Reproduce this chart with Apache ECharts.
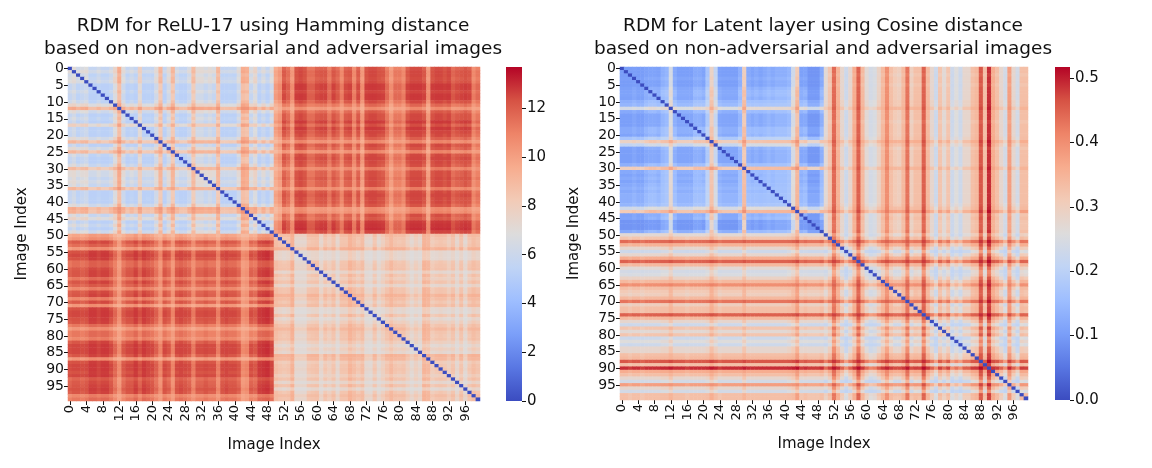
<!DOCTYPE html>
<html>
<head>
<meta charset="utf-8">
<title>RDM heatmaps</title>
<script src="https://cdn.jsdelivr.net/npm/echarts@6/dist/echarts.min.js"></script>
<style>
  html, body { margin: 0; padding: 0; background: #fff; }
  #main { width: 1152px; height: 468px; }
</style>
</head>
<body>
<div id="main"></div>
<script>
// image indices 0..99 (first 50 non-adversarial, last 50 adversarial)
var imageIndex = [];
for (var k = 0; k < 100; k++) imageIndex.push(String(k));

// ReLU-17 / Hamming: typical level of each image's row inside its own half
var hamWithin = [
  6.5, 7.0, 6.0, 6.5, 6.8, 5.5, 5.5, 6.0, 5.5, 5.5,
  6.0, 7.5, 9.5, 6.8, 5.5, 6.0, 5.5, 7.8, 5.5, 5.6,
  5.5, 7.0, 9.0, 5.5, 7.0, 9.0, 6.0, 5.5, 5.5, 6.5,
  8.8, 7.0, 7.0, 6.5, 7.0, 6.5, 9.0, 5.5, 5.5, 5.6,
  5.5, 6.8, 9.5, 9.3, 6.5, 7.5, 5.5, 6.5, 5.5, 6.8,
  8.8, 8.5, 8.3, 8.5, 9.3, 7.3, 7.3, 7.3, 8.3, 8.5,
  8.6, 7.3, 8.3, 7.8, 8.5, 7.3, 8.5, 8.5, 9.2, 8.8,
  8.3, 8.8, 7.3, 7.2, 8.3, 7.2, 7.8, 8.5, 9.0, 8.5,
  8.3, 8.5, 7.8, 7.2, 7.8, 7.3, 9.2, 9.0, 8.0, 8.3,
  8.5, 8.3, 7.8, 8.5, 7.3, 8.5, 7.2, 8.3, 8.8, 8.5
];
// ReLU-17 / Hamming: typical level of each image's row in the other half
var hamAcross = [
  11.9, 12.2, 12.2, 12.0, 12.2, 12.6, 12.6, 12.4, 12.6, 12.6,
  12.2, 11.2, 10.2, 11.6, 12.2, 12.2, 12.6, 11.9, 12.6, 12.4,
  12.2, 11.4, 10.4, 12.2, 11.7, 10.4, 12.2, 12.4, 12.2, 11.9,
  10.7, 11.9, 11.9, 12.2, 11.9, 11.9, 10.6, 12.2, 12.4, 12.2,
  12.2, 11.7, 10.2, 10.4, 11.9, 11.6, 12.6, 12.7, 12.8, 12.4,
  9.4, 9.9, 11.7, 11.2, 9.9, 12.2, 12.4, 12.2, 11.2, 11.2,
  11.7, 11.9, 11.9, 10.9, 11.9, 11.4, 10.4, 11.7, 11.9, 10.4,
  11.7, 9.9, 12.2, 12.4, 12.4, 12.2, 12.0, 10.9, 9.9, 10.9,
  10.9, 10.4, 11.9, 12.4, 12.4, 12.4, 11.9, 9.9, 12.2, 12.4,
  12.4, 12.2, 12.4, 11.4, 11.7, 11.9, 12.2, 11.9, 10.4, 10.9
];
var hamMid = { A: 6.3, B: 8.3, AB: 11.8 };
var hamMax = 13.7;
var hamTicks = [0, 2, 4, 6, 8, 10, 12];

// Latent layer / Cosine: typical level of each image's row inside its own half
var cosWithin = [
  0.11, 0.11, 0.11, 0.12, 0.11, 0.11, 0.13, 0.14, 0.14, 0.13,
  0.16, 0.17, 0.27, 0.15, 0.12, 0.12, 0.12, 0.12, 0.15, 0.15,
  0.14, 0.20, 0.32, 0.24, 0.13, 0.12, 0.12, 0.12, 0.12, 0.16,
  0.33, 0.15, 0.14, 0.15, 0.14, 0.15, 0.16, 0.15, 0.16, 0.16,
  0.16, 0.17, 0.26, 0.34, 0.13, 0.14, 0.10, 0.10, 0.10, 0.15,
  0.27, 0.32, 0.42, 0.35, 0.28, 0.23, 0.28, 0.35, 0.44, 0.34,
  0.27, 0.24, 0.25, 0.29, 0.34, 0.39, 0.33, 0.30, 0.30, 0.34,
  0.42, 0.30, 0.33, 0.32, 0.44, 0.34, 0.28, 0.23, 0.32, 0.27,
  0.32, 0.23, 0.26, 0.23, 0.28, 0.28, 0.33, 0.34, 0.45, 0.32,
  0.47, 0.36, 0.33, 0.28, 0.23, 0.38, 0.28, 0.23, 0.33, 0.32
];
// Latent layer / Cosine: typical level of each image's row in the other half
var cosAcross = [
  0.30, 0.30, 0.29, 0.30, 0.30, 0.29, 0.30, 0.30, 0.30, 0.30,
  0.31, 0.31, 0.34, 0.30, 0.30, 0.30, 0.29, 0.30, 0.30, 0.30,
  0.30, 0.31, 0.35, 0.32, 0.29, 0.30, 0.30, 0.30, 0.30, 0.30,
  0.34, 0.30, 0.30, 0.30, 0.30, 0.30, 0.30, 0.30, 0.30, 0.30,
  0.30, 0.31, 0.33, 0.37, 0.29, 0.30, 0.29, 0.29, 0.29, 0.30,
  0.27, 0.32, 0.44, 0.35, 0.28, 0.23, 0.28, 0.36, 0.45, 0.34,
  0.27, 0.24, 0.25, 0.29, 0.34, 0.40, 0.33, 0.31, 0.30, 0.34,
  0.43, 0.30, 0.33, 0.33, 0.45, 0.34, 0.28, 0.23, 0.32, 0.27,
  0.32, 0.23, 0.26, 0.23, 0.28, 0.28, 0.33, 0.34, 0.46, 0.33,
  0.49, 0.36, 0.33, 0.28, 0.24, 0.38, 0.28, 0.24, 0.33, 0.33
];
var cosMid = { A: 0.14, B: 0.30, AB: 0.30 };
var cosMax = 0.517;
var cosTicks = [0, 0.1, 0.2, 0.3, 0.4, 0.5];

var coolwarm = ['#3b4cc0', '#5977e3', '#7b9ff9', '#9ebeff', '#c0d4f5', '#dddcdc',
                '#f2cbb7', '#f7ac8e', '#ee8468', '#d65244', '#b40426'];

// two row effects -> one cell; same-sign effects don't fully stack
function combine(a, b) {
  if (a * b > 0) {
    var big = Math.abs(a) >= Math.abs(b) ? a : b;
    var small = big === a ? b : a;
    return big + 0.3 * small;
  }
  return a + b;
}

function buildRdm(within, across, mid, max) {
  var out = [];
  for (var i = 0; i < 100; i++) {
    for (var j = 0; j < 100; j++) {
      var gi = i < 50 ? 'A' : 'B', gj = j < 50 ? 'A' : 'B';
      var v;
      if (i === j) v = 0;
      else if (gi === gj) v = mid[gi] + combine(within[i] - mid[gi], within[j] - mid[gj]);
      else v = mid.AB + combine(across[i] - mid.AB, across[j] - mid.AB);
      v = Math.max(0, Math.min(max, v));
      out.push([j, i, v]);
    }
  }
  return out;
}

var hamData = buildRdm(hamWithin, hamAcross, hamMid, hamMax);
var cosData = buildRdm(cosWithin, cosAcross, cosMid, cosMax);

var font = 'DejaVu Sans';
var txt = '#111';

function heatX(gridIdx) {
  return {
    type: 'category', gridIndex: gridIdx, data: imageIndex,
    name: 'Image Index', nameLocation: 'middle', nameGap: 37,
    nameTextStyle: { fontFamily: font, fontSize: 15, color: txt },
    axisLine: { show: false }, splitArea: { show: false },
    axisTick: { show: true, interval: 3, alignWithLabel: true, length: 4, lineStyle: { color: txt } },
    axisLabel: { interval: 3, rotate: 90, fontFamily: font, fontSize: 13, color: txt, margin: 4 }
  };
}
function heatY(gridIdx) {
  return {
    type: 'category', gridIndex: gridIdx, data: imageIndex, inverse: true,
    name: 'Image Index', nameLocation: 'middle', nameGap: 38, nameRotate: 90,
    nameTextStyle: { fontFamily: font, fontSize: 15, color: txt },
    axisLine: { show: false }, splitArea: { show: false },
    axisTick: { show: true, interval: 4, alignWithLabel: true, length: 4, lineStyle: { color: txt } },
    axisLabel: { interval: 4, fontFamily: font, fontSize: 14, color: txt, margin: 4 }
  };
}
function barX(gridIdx) {
  return { type: 'category', gridIndex: gridIdx, data: ['c'], show: false };
}
function barY(gridIdx, max, ticks, digits) {
  return {
    type: 'value', gridIndex: gridIdx, min: 0, max: max, position: 'right',
    splitLine: { show: false }, axisLine: { show: false },
    axisTick: { show: true, length: 4, customValues: ticks, lineStyle: { color: txt } },
    axisLabel: { customValues: ticks, fontFamily: font, fontSize: 15, color: txt, margin: 5,
      formatter: function (v) { return v.toFixed(digits); } }
  };
}
function gradient() {
  var stops = coolwarm.map(function (c, i) { return { offset: i / 10, color: c }; });
  return new echarts.graphic.LinearGradient(0, 1, 0, 0, stops);
}

var chart = echarts.init(document.getElementById('main'), null, { renderer: 'canvas' });
chart.setOption({
  animation: false,
  backgroundColor: '#fff',
  grid: [
    { left: 68, top: 67, width: 412, height: 334 },
    { left: 506, top: 67, width: 16, height: 334 },
    { left: 620, top: 67, width: 408, height: 333 },
    { left: 1055, top: 67, width: 15, height: 333 }
  ],
  xAxis: [heatX(0), barX(1), heatX(2), barX(3)],
  yAxis: [heatY(0), barY(1, hamMax, hamTicks, 0), heatY(2), barY(3, cosMax, cosTicks, 1)],
  visualMap: [
    { show: false, seriesIndex: 0, min: 0, max: hamMax, inRange: { color: coolwarm } },
    { show: false, seriesIndex: 2, min: 0, max: cosMax, inRange: { color: coolwarm } }
  ],
  graphic: [
    { type: 'text', x: 273, y: 15, style: {
        text: 'RDM for ReLU-17 using Hamming distance\nbased on non-adversarial and adversarial images',
        font: '18.5px "DejaVu Sans"', textAlign: 'center', lineHeight: 23, fill: txt } },
    { type: 'text', x: 823, y: 15, style: {
        text: 'RDM for Latent layer using Cosine distance\nbased on non-adversarial and adversarial images',
        font: '18.5px "DejaVu Sans"', textAlign: 'center', lineHeight: 23, fill: txt } }
  ],
  series: [
    { type: 'heatmap', xAxisIndex: 0, yAxisIndex: 0, data: hamData, progressive: 0,
      emphasis: { disabled: true } },
    { type: 'bar', xAxisIndex: 1, yAxisIndex: 1, data: [hamMax], barWidth: '100%',
      itemStyle: { color: gradient() }, silent: true },
    { type: 'heatmap', xAxisIndex: 2, yAxisIndex: 2, data: cosData, progressive: 0,
      emphasis: { disabled: true } },
    { type: 'bar', xAxisIndex: 3, yAxisIndex: 3, data: [cosMax], barWidth: '100%',
      itemStyle: { color: gradient() }, silent: true }
  ]
});
</script>
</body>
</html>
